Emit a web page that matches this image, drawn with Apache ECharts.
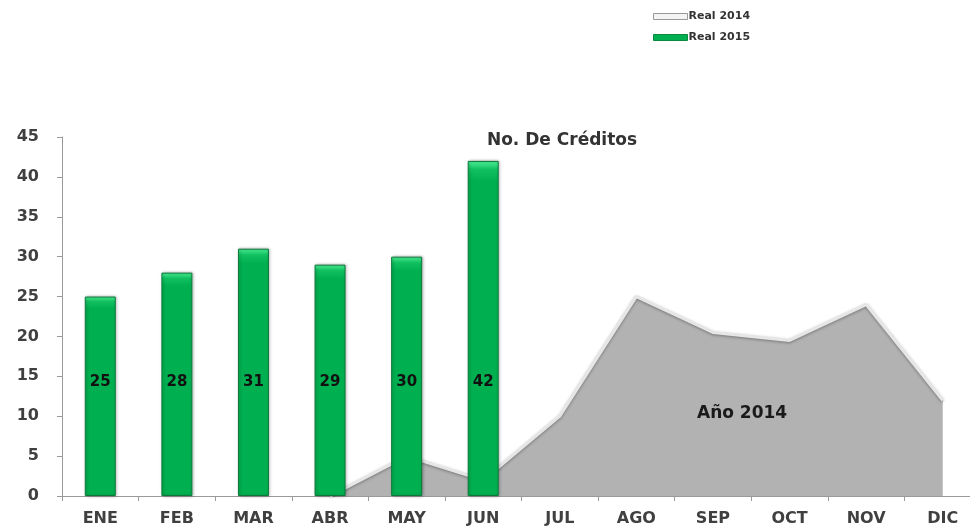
<!DOCTYPE html>
<html><head><meta charset="utf-8">
<script src="https://cdn.jsdelivr.net/npm/echarts@6/dist/echarts.min.js"></script>
<style>html,body{margin:0;padding:0;background:#fff;overflow:hidden}#c{width:990px;height:532px}</style>
</head><body><div id="c"></div>
<script>
var months = ['ENE','FEB','MAR','ABR','MAY','JUN','JUL','AGO','SEP','OCT','NOV','DIC'];
var real2014 = [null, null, null, 0, 5, 2, 10, 25, 20.5, 19.5, 24, 12];
var real2015 = [25, 28, 31, 29, 30, 42];
var yTicks = [0, 45, 5];
var chartTitle = 'No. De Créditos';
var areaNote = 'Año 2014';

var FONT = 'DejaVu Sans';
var chart = echarts.init(document.getElementById('c'));
chart.setOption({
  animation: false,
  title: {
    text: chartTitle, left: 557, top: 127, textAlign: 'center',
    textStyle: {fontFamily: FONT, fontSize: 17, fontWeight: 'bold', color: '#333'}
  },
  legend: {
    orient: 'vertical', left: 648, top: 6, itemGap: 10,
    itemWidth: 34, itemHeight: 6, icon: 'rect',
    textStyle: {fontFamily: FONT, fontSize: 11, fontWeight: 'bold', color: '#333', padding: [0,0,0,-4]},
    data: [
      {name: 'Real 2014', itemStyle: {color: '#f4f4f4', borderColor: '#999', borderWidth: 1}},
      {name: 'Real 2015', itemStyle: {color: '#00b050', borderColor: '#0a8a3f', borderWidth: 1}}
    ]
  },
  grid: {left: 62, right: 9, top: 137, bottom: 36},
  xAxis: {
    type: 'category', data: months, boundaryGap: true,
    axisLine: {lineStyle: {color: '#9a9a9a', width: 1}},
    axisTick: {show: true, length: 5, lineStyle: {color: '#9a9a9a'}},
    axisLabel: {fontFamily: FONT, fontSize: 16, fontWeight: 'bold', color: '#404040', margin: 15}
  },
  yAxis: {
    type: 'value', min: yTicks[0], max: yTicks[1], interval: yTicks[2],
    splitLine: {show: false},
    axisLine: {show: true, lineStyle: {color: '#9a9a9a', width: 1}},
    axisTick: {show: true, length: 5, lineStyle: {color: '#9a9a9a'}},
    axisLabel: {fontFamily: FONT, fontSize: 16, fontWeight: 'bold', color: '#404040', margin: 23}
  },
  graphic: [{
    type: 'text', left: 697, top: 405, z: 100,
    style: {text: areaNote, fontFamily: FONT, fontSize: 17, fontWeight: 'bold', fill: '#1a1a1a'}
  }],
  series: [
    {
      name: 'Real 2014', type: 'line', data: real2014, symbol: 'none', z: 1,
      lineStyle: {color: '#e6e6e6', width: 3, shadowColor: 'rgba(0,0,0,0.35)', shadowBlur: 3, shadowOffsetY: 1},
      itemStyle: {color: '#f4f4f4'},
      areaStyle: {color: '#b2b2b2', opacity: 1}
    },
    {
      name: 'Real 2015', type: 'bar', data: real2015, barWidth: 31, z: 3,
      itemStyle: {
        color: new echarts.graphic.LinearGradient(0, 0, 0, 1, [
          {offset: 0, color: '#4df59a'}, {offset: 0.025, color: '#12c060'}, {offset: 0.06, color: '#00b050'}, {offset: 1, color: '#00b050'}
        ]),
        borderColor: '#0b7a3a', borderWidth: 1,
        shadowColor: 'rgba(0,0,0,0.3)', shadowBlur: 3, shadowOffsetX: 1
      },
      label: {
        show: true, position: 'insideBottom', distance: 106,
        fontFamily: FONT, fontSize: 15, fontWeight: 'bold', color: '#111'
      }
    }
  ]
});
</script></body></html>
